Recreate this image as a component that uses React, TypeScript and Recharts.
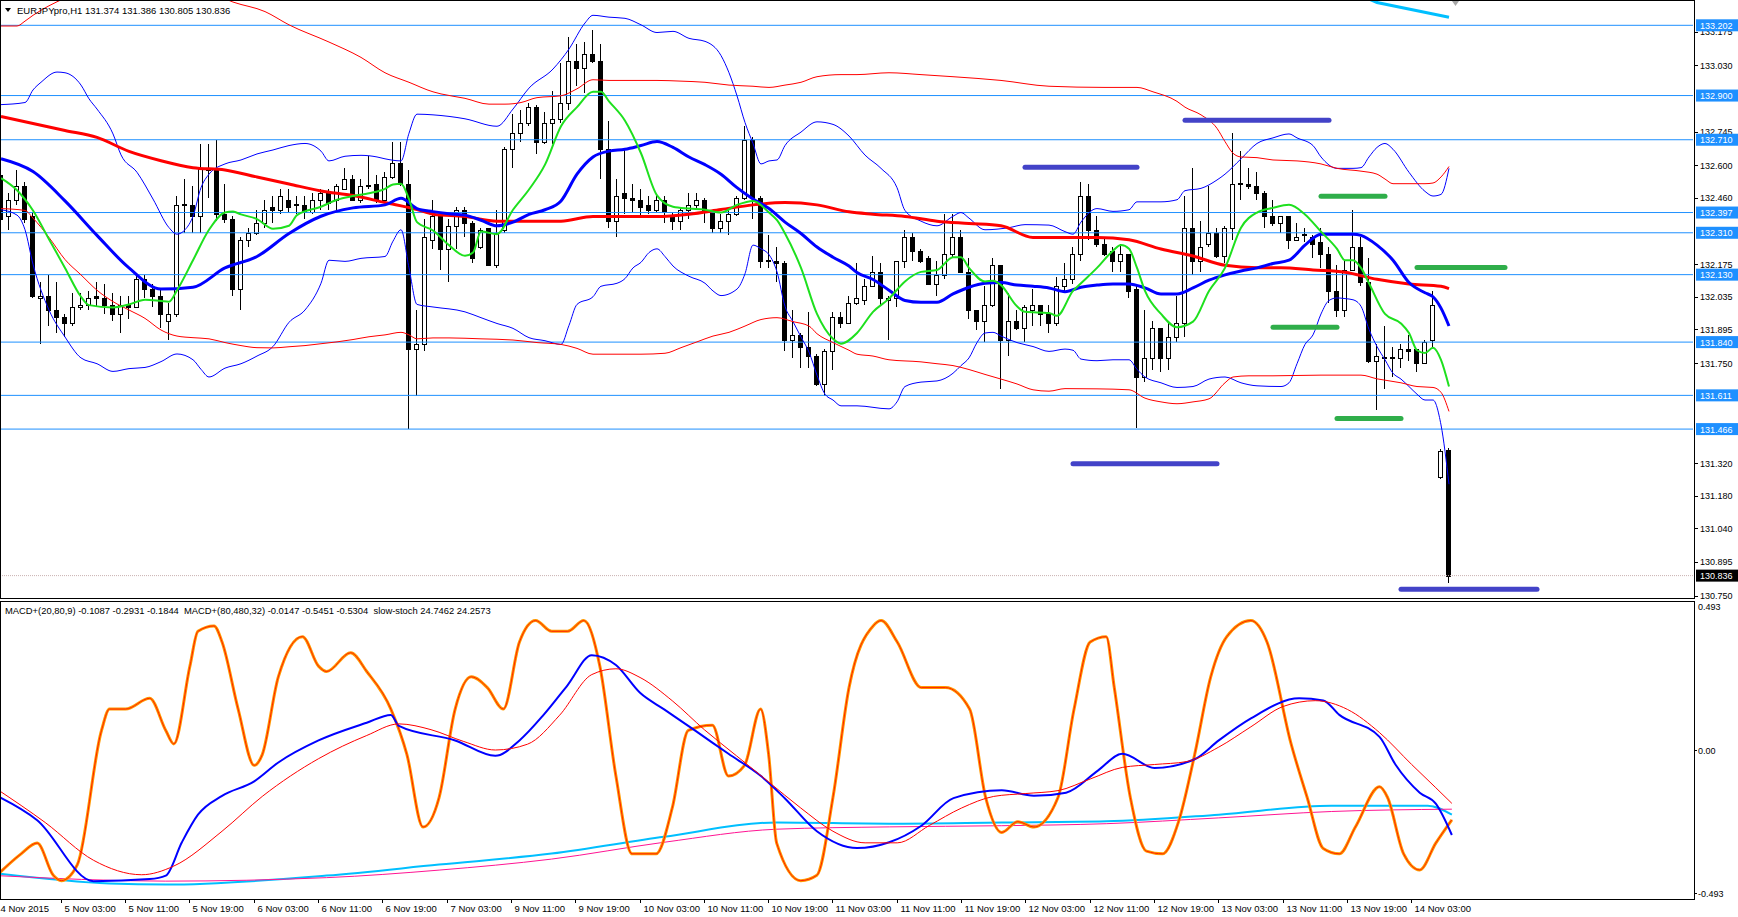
import React from 'react';
import { ComposedChart, Bar, Line, XAxis, YAxis, ReferenceLine } from 'recharts';

type Pt = [number, number];

// ---- candles (EURJPYpro H1), bar 0 = 4 Nov 19:00 ----
const opens = [
  132.56, 132.38, 132.45, 132.51, 132.38, 132.03, 132.04, 131.98, 131.95, 131.92,
  131.99, 132.0, 132.04, 132.03, 132.0, 131.96, 132.0, 131.99, 132.11, 132.07,
  132.04, 131.93, 131.96, 132.43, 132.43, 132.38, 132.58, 132.59, 132.39, 132.37,
  132.07, 132.28, 132.31, 132.35, 132.42, 132.41, 132.45, 132.43, 132.43, 132.4,
  132.45, 132.48, 132.45, 132.5, 132.54, 132.45, 132.51, 132.52, 132.45, 132.55,
  132.61, 132.52, 131.81, 131.83, 132.28, 132.38, 132.24, 132.34, 132.41, 132.35,
  132.25, 132.33, 132.17, 132.32, 132.67, 132.74, 132.78, 132.85, 132.7, 132.78,
  132.8, 132.87, 133.05, 133.02, 133.08, 133.05, 132.67, 132.36, 132.48, 132.46,
  132.45, 132.43, 132.41, 132.45, 132.38, 132.36, 132.41, 132.43, 132.45, 132.41,
  132.33, 132.36, 132.39, 132.46, 132.71, 132.46, 132.19, 132.19, 132.18, 131.85,
  131.87, 131.82, 131.78, 131.66, 131.8, 131.95, 131.92, 132.01, 132.02, 132.08,
  132.14, 132.02, 132.03, 132.19, 132.29, 132.23, 132.2, 132.09, 132.13, 132.22,
  132.29, 132.14, 131.98, 131.93, 132.0, 132.17, 131.85, 131.93, 131.9, 131.98,
  132.0, 131.96, 131.92, 132.08, 132.11, 132.22, 132.47, 132.32, 132.26, 132.23,
  132.19, 132.22, 132.07, 131.69, 131.77, 131.9, 131.77, 131.86, 131.92, 132.33,
  132.19, 132.26, 132.31, 132.21, 132.33, 132.52, 132.52, 132.51, 132.48, 132.38,
  132.35, 132.38, 132.28, 132.3, 132.29, 132.27, 132.22, 132.06, 131.98, 132.15,
  132.25, 132.1, 131.76, 131.77, 131.77, 131.77, 131.81, 131.81, 131.75, 131.85,
  131.26, 131.374,
];
const highs = [
  132.59, 132.48, 132.58, 132.53, 132.4, 132.1, 132.13, 132.1, 131.96, 132.05,
  132.05, 132.06, 132.1, 132.09, 132.05, 132.04, 132.04, 132.13, 132.13, 132.09,
  132.07, 132.01, 132.47, 132.54, 132.51, 132.69, 132.69, 132.71, 132.52, 132.38,
  132.29, 132.33, 132.41, 132.45, 132.47, 132.5, 132.5, 132.47, 132.47, 132.48,
  132.5, 132.5, 132.52, 132.59, 132.56, 132.54, 132.64, 132.56, 132.57, 132.7,
  132.7, 132.58, 131.98, 132.37, 132.45, 132.4, 132.37, 132.42, 132.42, 132.36,
  132.33, 132.33, 132.41, 132.68, 132.82, 132.84, 132.87, 132.86, 132.83, 132.92,
  133.04, 133.15, 133.12, 133.13, 133.18, 133.12, 132.79, 132.54, 132.67, 132.52,
  132.5, 132.47, 132.47, 132.47, 132.4, 132.42, 132.48, 132.48, 132.46, 132.41,
  132.39, 132.41, 132.47, 132.77, 132.72, 132.47, 132.3, 132.25, 132.19, 131.98,
  131.88, 131.97, 131.79, 131.81, 131.97, 131.97, 132.04, 132.18, 132.11, 132.21,
  132.18, 132.04, 132.19, 132.32, 132.31, 132.24, 132.21, 132.19, 132.39, 132.39,
  132.32, 132.2, 131.98, 132.08, 132.2, 132.17, 132.05, 131.98, 132.0, 132.07,
  132.0, 132.0, 132.12, 132.18, 132.25, 132.53, 132.52, 132.38, 132.29, 132.25,
  132.26, 132.22, 132.09, 131.98, 131.93, 131.9, 131.92, 132.04, 132.47, 132.59,
  132.36, 132.51, 132.33, 132.34, 132.74, 132.66, 132.59, 132.57, 132.49, 132.45,
  132.38, 132.38, 132.35, 132.33, 132.3, 132.33, 132.25, 132.17, 132.19, 132.41,
  132.29, 132.2, 131.83, 131.91, 131.82, 131.83, 131.87, 131.81, 131.85, 132.06,
  131.38, 131.386,
];
const lows = [
  132.34, 132.32, 132.43, 132.35, 132.03, 131.83, 131.91, 131.88, 131.86, 131.91,
  131.98, 131.98, 131.99, 131.96, 131.93, 131.88, 131.94, 131.99, 132.03, 131.99,
  131.9, 131.85, 131.95, 132.31, 132.31, 132.31, 132.46, 132.36, 132.35, 132.04,
  131.98, 132.25, 132.3, 132.33, 132.35, 132.39, 132.4, 132.39, 132.37, 132.39,
  132.41, 132.41, 132.41, 132.5, 132.45, 132.44, 132.5, 132.44, 132.44, 132.54,
  132.51, 131.465, 131.61, 131.8, 132.24, 132.15, 132.1, 132.24, 132.29, 132.18,
  132.24, 132.17, 132.16, 132.31, 132.59, 132.7, 132.77, 132.65, 132.69, 132.69,
  132.78, 132.84, 132.94, 132.91, 133.04, 132.54, 132.33, 132.29, 132.39, 132.4,
  132.38, 132.39, 132.4, 132.35, 132.32, 132.32, 132.37, 132.41, 132.35, 132.31,
  132.31, 132.3, 132.38, 132.45, 132.37, 132.16, 132.16, 132.1, 131.8, 131.77,
  131.73, 131.73, 131.65, 131.61, 131.72, 131.9, 131.92, 132.0, 132.0, 132.08,
  132.0, 131.85, 131.99, 132.16, 132.19, 132.18, 132.09, 132.04, 132.11, 132.2,
  132.14, 131.94, 131.89, 131.84, 131.99, 131.64, 131.78, 131.89, 131.84, 131.91,
  131.91, 131.88, 131.91, 132.06, 132.09, 132.19, 132.28, 132.25, 132.21, 132.14,
  132.14, 132.03, 131.47, 131.67, 131.72, 131.71, 131.72, 131.84, 131.86, 132.13,
  132.14, 132.25, 132.2, 132.18, 132.28, 132.45, 132.5, 132.45, 132.33, 132.34,
  132.31, 132.24, 132.28, 132.27, 132.2, 132.16, 132.01, 131.95, 131.95, 132.15,
  132.08, 131.75, 131.55, 131.64, 131.69, 131.73, 131.76, 131.71, 131.75, 131.82,
  131.25, 130.805,
];
const closes = [
  132.37, 132.45, 132.51, 132.37, 132.04, 132.04, 131.98, 131.95, 131.92, 131.99,
  132.0, 132.03, 132.03, 132.0, 131.96, 132.0, 131.99, 132.11, 132.07, 132.04,
  131.96, 131.96, 132.43, 132.435, 132.38, 132.59, 132.59, 132.39, 132.37, 132.07,
  132.28, 132.31, 132.35, 132.41, 132.41, 132.47, 132.42, 132.435, 132.4, 132.45,
  132.48, 132.44, 132.51, 132.54, 132.45, 132.51, 132.515, 132.45, 132.55, 132.61,
  132.52, 131.81, 131.83, 132.29, 132.38, 132.24, 132.34, 132.41, 132.35, 132.2,
  132.32, 132.17, 132.31, 132.67, 132.74, 132.78, 132.85, 132.7, 132.78, 132.8,
  132.87, 133.05, 133.02, 133.08, 133.05, 132.67, 132.36, 132.47, 132.46, 132.45,
  132.42, 132.41, 132.45, 132.4, 132.36, 132.41, 132.43, 132.45, 132.41, 132.33,
  132.36, 132.39, 132.46, 132.71, 132.46, 132.19, 132.195, 132.18, 131.85, 131.87,
  131.82, 131.78, 131.66, 131.8, 131.95, 131.92, 132.01, 132.03, 132.08, 132.14,
  132.03, 132.03, 132.19, 132.29, 132.23, 132.19, 132.09, 132.13, 132.22, 132.29,
  132.14, 131.98, 131.93, 132.0, 132.17, 131.85, 131.93, 131.9, 131.99, 132.0,
  131.96, 131.92, 132.08, 132.11, 132.22, 132.47, 132.32, 132.26, 132.22, 132.19,
  132.22, 132.06, 131.69, 131.77, 131.9, 131.77, 131.86, 131.92, 132.33, 132.19,
  132.25, 132.31, 132.21, 132.33, 132.52, 132.525, 132.51, 132.48, 132.38, 132.35,
  132.38, 132.28, 132.29, 132.305, 132.26, 132.22, 132.06, 131.98, 132.15, 132.25,
  132.1, 131.76, 131.78, 131.775, 131.775, 131.81, 131.8, 131.75, 131.84, 132.0,
  131.37, 130.836,
];

// ---- main window indicators, [bar, value] ----
const maSlow: Pt[] = [
  [0, 132.81], [4, 132.78], [8, 132.75], [12, 132.72], [16, 132.66], [20, 132.62], [24, 132.59],
  [28, 132.58], [32, 132.55], [36, 132.52], [40, 132.49], [44, 132.47], [48, 132.44], [52, 132.41],
  [54, 132.39], [58, 132.38], [62, 132.36], [66, 132.36], [70, 132.36], [74, 132.38], [78, 132.38],
  [82, 132.38], [86, 132.39], [90, 132.41], [94, 132.43], [98, 132.44], [102, 132.43], [106, 132.4],
  [109, 132.39], [113, 132.38], [117, 132.36], [121, 132.35], [125, 132.34], [129, 132.29],
  [133, 132.29], [137, 132.29], [141, 132.28], [145, 132.24], [149, 132.21], [153, 132.17],
  [157, 132.16], [160, 132.16], [164, 132.15], [168, 132.14], [172, 132.11], [176, 132.09],
  [180, 132.08], [181, 132.07],
];
const maMid: Pt[] = [
  [0, 132.628], [4, 132.573], [8, 132.447], [12, 132.299], [16, 132.159], [20, 132.068], [24, 132.076],
  [28, 132.159], [32, 132.208], [36, 132.307], [40, 132.381], [44, 132.417], [48, 132.43], [50, 132.458],
  [52, 132.414], [54, 132.401], [56, 132.392], [58, 132.386], [60, 132.364], [62, 132.34], [64, 132.356],
  [66, 132.389], [68, 132.409], [70, 132.447], [72, 132.562], [74, 132.636], [76, 132.661], [78, 132.669],
  [80, 132.685], [82, 132.702], [84, 132.677], [86, 132.636], [88, 132.603], [90, 132.562], [92, 132.504],
  [94, 132.455], [96, 132.414], [98, 132.356], [100, 132.307], [102, 132.249], [104, 132.205],
  [106, 132.167], [107, 132.139], [109, 132.109], [111, 132.063], [113, 132.019], [115, 132.011],
  [117, 132.011], [119, 132.047], [121, 132.076], [123, 132.093], [125, 132.096], [127, 132.085],
  [129, 132.08], [131, 132.073], [133, 132.057], [135, 132.076], [137, 132.085], [139, 132.09],
  [141, 132.09], [143, 132.073], [145, 132.047], [147, 132.047], [149, 132.073], [151, 132.106],
  [153, 132.129], [155, 132.146], [157, 132.159], [159, 132.178], [161, 132.192], [163, 132.257],
  [165, 132.304], [167, 132.304], [169, 132.304], [170, 132.299], [172, 132.257], [174, 132.192],
  [176, 132.096], [178, 132.052], [179, 132.035], [180, 131.986], [181, 131.909],
];
const maFast: Pt[] = [
  [0, 132.545], [2, 132.493], [4, 132.406], [6, 132.282], [8, 132.159], [10, 132.035], [11, 131.999],
  [14, 131.989], [16, 132.002], [18, 132.022], [20, 132.017], [21, 132.014], [22, 132.063], [24, 132.192],
  [26, 132.323], [28, 132.397], [29, 132.401], [30, 132.389], [32, 132.369], [34, 132.327], [36, 132.34],
  [37, 132.386], [40, 132.422], [42, 132.452], [44, 132.468], [46, 132.48], [48, 132.499], [49, 132.518],
  [50, 132.521], [51, 132.455], [52, 132.356], [54, 132.32], [56, 132.257], [58, 132.211], [59, 132.225],
  [60, 132.315], [62, 132.304], [64, 132.409], [66, 132.496], [68, 132.603], [70, 132.768], [72, 132.85],
  [74, 132.916], [75, 132.916], [76, 132.875], [78, 132.792], [80, 132.652], [82, 132.471], [84, 132.422],
  [86, 132.414], [88, 132.409], [90, 132.397], [92, 132.43], [94, 132.447], [96, 132.397], [97, 132.364],
  [98, 132.307], [100, 132.159], [102, 131.961], [104, 131.854], [105, 131.833], [107, 131.879],
  [109, 131.97], [111, 132.027], [113, 132.101], [115, 132.142], [117, 132.15], [119, 132.205],
  [120, 132.205], [121, 132.159], [123, 132.101], [124, 132.104], [125, 132.085], [127, 131.994],
  [128, 131.97], [131, 131.965], [132, 131.953], [134, 132.06], [135, 132.093], [137, 132.159],
  [139, 132.233], [140, 132.257], [141, 132.241], [142, 132.159], [143, 132.06], [145, 131.961],
  [147, 131.904], [149, 131.928], [151, 132.06], [153, 132.159], [155, 132.332], [157, 132.397],
  [159, 132.417], [161, 132.43], [163, 132.389], [165, 132.315], [167, 132.241], [168, 132.192],
  [169, 132.192], [170, 132.159], [171, 132.093], [173, 131.961], [175, 131.92], [176, 131.879],
  [177, 131.805], [178, 131.793], [179, 131.816], [180, 131.764], [181, 131.649],
];
const bbUpper: Pt[] = [
  [0, 132.861], [3, 132.87], [4, 132.924], [5, 132.957], [7, 133.001], [8, 132.998], [10, 132.945],
  [11, 132.886], [12, 132.842], [14, 132.735], [15, 132.645], [17, 132.57], [19, 132.455], [21, 132.332],
  [22, 132.304], [23, 132.323], [24, 132.381], [25, 132.504], [26, 132.562], [28, 132.606], [30, 132.623],
  [32, 132.649], [34, 132.666], [36, 132.685], [38, 132.694], [40, 132.661], [41, 132.619], [43, 132.639],
  [45, 132.643], [47, 132.636], [48, 132.628], [50, 132.619], [51, 132.738], [52, 132.82], [54, 132.817],
  [58, 132.8], [62, 132.768], [64, 132.842], [66, 132.932], [69, 133.014], [71, 133.1], [73, 133.212],
  [74, 133.245], [76, 133.237], [78, 133.232], [80, 133.204], [82, 133.171], [84, 133.176], [86, 133.146],
  [88, 133.133], [90, 133.072], [91, 132.998], [92, 132.899], [93, 132.784], [94, 132.694], [95, 132.606],
  [96, 132.619], [97, 132.623], [98, 132.685], [100, 132.743], [102, 132.787], [104, 132.776],
  [106, 132.726], [108, 132.644], [110, 132.587], [112, 132.504], [113, 132.406], [115, 132.36],
  [117, 132.34], [119, 132.381], [120, 132.397], [121, 132.373], [123, 132.323], [126, 132.332],
  [128, 132.345], [131, 132.343], [133, 132.315], [134, 132.304], [135, 132.356], [137, 132.414],
  [139, 132.402], [141, 132.409], [142, 132.443], [145, 132.443], [147, 132.452], [148, 132.491],
  [150, 132.501], [152, 132.537], [153, 132.562], [155, 132.628], [157, 132.694], [159, 132.718],
  [161, 132.735], [162, 132.718], [164, 132.685], [165, 132.636], [167, 132.587], [169, 132.587],
  [170, 132.59], [171, 132.636], [172, 132.677], [173, 132.694], [174, 132.669], [176, 132.57],
  [178, 132.488], [179, 132.468], [180, 132.475], [181, 132.587],
];
const bbLower: Pt[] = [
  [0, 132.409], [2, 132.386], [3, 132.323], [4, 132.175], [6, 131.978], [8, 131.862], [10, 131.772],
  [12, 131.747], [14, 131.714], [16, 131.726], [18, 131.731], [20, 131.756], [22, 131.789], [24, 131.764],
  [25, 131.723], [26, 131.69], [28, 131.728], [30, 131.747], [32, 131.78], [34, 131.821], [36, 131.925],
  [38, 131.978], [40, 132.093], [41, 132.192], [43, 132.187], [45, 132.2], [48, 132.208], [49, 132.274],
  [50, 132.323], [51, 132.159], [52, 132.002], [54, 131.991], [58, 131.97], [60, 131.945], [62, 131.92],
  [64, 131.899], [66, 131.859], [68, 131.846], [70, 131.83], [71, 131.912], [72, 132.002], [74, 132.035],
  [75, 132.08], [77, 132.093], [78, 132.113], [79, 132.159], [80, 132.183], [81, 132.225], [82, 132.241],
  [83, 132.208], [84, 132.167], [86, 132.123], [88, 132.093], [89, 132.06], [90, 132.04], [92, 132.068],
  [93, 132.134], [94, 132.257], [95, 132.241], [96, 132.216], [97, 132.142], [98, 131.994], [99, 131.928],
  [100, 131.862], [101, 131.797], [102, 131.698], [103, 131.616], [104, 131.591], [105, 131.566],
  [107, 131.566], [111, 131.553], [112, 131.583], [113, 131.649], [115, 131.668], [117, 131.673],
  [119, 131.706], [120, 131.739], [121, 131.772], [122, 131.838], [123, 131.879], [124, 131.882],
  [125, 131.866], [127, 131.838], [129, 131.821], [131, 131.8], [133, 131.81], [134, 131.805],
  [135, 131.767], [137, 131.76], [139, 131.764], [141, 131.764], [142, 131.723], [143, 131.69],
  [145, 131.665], [147, 131.645], [149, 131.649], [151, 131.681], [153, 131.69], [155, 131.665],
  [157, 131.652], [160, 131.649], [161, 131.665], [162, 131.747], [163, 131.83], [164, 131.871],
  [165, 131.961], [166, 132.019], [167, 132.03], [168, 132.027], [169, 132.022], [170, 131.994],
  [171, 131.895], [172, 131.821], [173, 131.764], [174, 131.706], [175, 131.681], [176, 131.649],
  [177, 131.616], [178, 131.591], [179, 131.591], [180, 131.484], [181, 131.229],
];
const envUpper: Pt[] = [
  [0, 133.199], [2, 133.199], [3, 133.22], [4, 133.245], [6, 133.286], [8, 133.319], [12, 133.376],
  [18, 133.409], [24, 133.376], [29, 133.302], [33, 133.261], [36, 133.204], [41, 133.13], [45, 133.064],
  [48, 132.998], [51, 132.957], [54, 132.916], [55, 132.907], [58, 132.888], [61, 132.863], [63, 132.863],
  [65, 132.87], [67, 132.891], [70, 132.899], [72, 132.929], [74, 132.968], [76, 132.965], [82, 132.965],
  [85, 132.962], [88, 132.957], [91, 132.945], [94, 132.94], [96, 132.935], [98, 132.945], [100, 132.957],
  [102, 132.981], [105, 132.99], [107, 132.99], [111, 132.998], [115, 132.99], [119, 132.981],
  [125, 132.965], [131, 132.94], [138, 132.935], [142, 132.935], [144, 132.916], [147, 132.875],
  [148, 132.85], [150, 132.817], [152, 132.759], [153, 132.702], [154, 132.652], [155, 132.636],
  [157, 132.633], [159, 132.623], [162, 132.619], [165, 132.606], [167, 132.587], [170, 132.575],
  [172, 132.562], [173, 132.541], [174, 132.521], [178, 132.521], [179, 132.524], [180, 132.55],
  [181, 132.595],
];
const envLower: Pt[] = [
  [0, 132.414], [3, 132.406], [4, 132.373], [6, 132.29], [8, 132.195], [10, 132.129], [12, 132.063],
  [14, 132.014], [16, 131.978], [18, 131.942], [20, 131.892], [22, 131.866], [24, 131.859], [26, 131.854],
  [28, 131.838], [30, 131.825], [32, 131.816], [34, 131.815], [36, 131.82], [38, 131.825], [40, 131.833],
  [42, 131.841], [44, 131.851], [46, 131.863], [48, 131.871], [50, 131.882], [51, 131.871], [52, 131.854],
  [54, 131.858], [56, 131.858], [60, 131.854], [64, 131.849], [67, 131.838], [70, 131.83], [72, 131.813],
  [74, 131.788], [80, 131.788], [83, 131.792], [85, 131.816], [87, 131.841], [89, 131.866], [91, 131.882],
  [93, 131.909], [95, 131.937], [97, 131.945], [99, 131.928], [101, 131.909], [102, 131.876],
  [104, 131.838], [106, 131.805], [107, 131.788], [109, 131.78], [111, 131.764], [115, 131.755],
  [117, 131.747], [119, 131.739], [121, 131.722], [123, 131.701], [125, 131.681], [127, 131.66],
  [129, 131.635], [131, 131.629], [133, 131.64], [137, 131.639], [141, 131.635], [143, 131.599],
  [145, 131.583], [147, 131.575], [149, 131.583], [151, 131.596], [153, 131.665], [154, 131.69],
  [156, 131.695], [159, 131.695], [165, 131.698], [170, 131.698], [172, 131.682], [175, 131.665],
  [177, 131.649], [179, 131.645], [180, 131.624], [181, 131.542],
];
const cyanTop: Pt[] = [[170, 133.33], [172, 133.3], [181, 133.237]];

// horizontal levels and drawn segments
const levels = [133.202, 132.9, 132.71, 132.397, 132.31, 132.13, 131.84, 131.611, 131.466];
const lastPrice = 130.836;
const priceTicks = [
  133.175, 133.03, 132.745, 132.6, 132.46, 132.175, 132.035, 131.895, 131.75, 131.32, 131.18,
  131.04, 130.895, 130.75,
];
const segments = [
  { from: 128, to: 142, price: 132.592, color: '#4343c8' },
  { from: 148, to: 166, price: 132.794, color: '#4343c8' },
  { from: 134, to: 152, price: 131.317, color: '#4343c8' },
  { from: 175, to: 192, price: 130.777, color: '#4343c8' },
  { from: 165, to: 173, price: 132.467, color: '#2fae4a' },
  { from: 177, to: 188, price: 132.161, color: '#2fae4a' },
  { from: 159, to: 167, price: 131.904, color: '#2fae4a' },
  { from: 167, to: 175, price: 131.512, color: '#2fae4a' },
];

// ---- sub window: MACD(20,80,9), MACD(80,480,32), slow stochastic ----
const macdMain: Pt[] = [
  [0, -0.158], [5, -0.242], [12, -0.452], [19, -0.445], [21, -0.433], [23, -0.318], [25, -0.223],
  [28, -0.158], [32, -0.108], [35, -0.043], [40, 0.033], [46, 0.094], [49, 0.121], [50, 0.083],
  [57, 0.033], [62, -0.02], [65, 0.033], [68, 0.121], [71, 0.224], [74, 0.327], [77, 0.293],
  [80, 0.197], [83, 0.14], [87, 0.064], [91, -0.013], [95, -0.089], [98, -0.166], [102, -0.28],
  [107, -0.338], [111, -0.318], [115, -0.261], [119, -0.166], [125, -0.139], [129, -0.158],
  [133, -0.147], [137, -0.07], [140, -0.013], [144, -0.062], [149, -0.032], [152, 0.033],
  [156, 0.109], [162, 0.178], [165, 0.171], [167, 0.121], [172, 0.045], [174, -0.051],
  [177, -0.147], [179, -0.185], [181, -0.293],
];
const macdSignal: Pt[] = [
  [0, -0.135], [6, -0.25], [12, -0.38], [18, -0.43], [22, -0.4], [28, -0.28], [33, -0.16], [40, -0.03],
  [46, 0.05], [50, 0.09], [54, 0.07], [58, 0.03], [62, 0.0], [66, 0.02], [70, 0.12], [74, 0.26],
  [77, 0.28], [80, 0.25], [84, 0.17], [88, 0.07], [92, -0.02], [96, -0.11], [100, -0.2], [104, -0.28],
  [108, -0.32], [112, -0.32], [116, -0.26], [120, -0.2], [124, -0.16], [128, -0.15], [132, -0.14],
  [136, -0.1], [140, -0.06], [144, -0.05], [148, -0.04], [152, 0.01], [156, 0.08], [160, 0.15],
  [164, 0.17], [168, 0.14], [172, 0.06], [176, -0.05], [179, -0.13], [181, -0.184],
];
const macdLong: Pt[] = [
  [0, -0.425], [14, -0.46], [21, -0.464], [41, -0.433], [55, -0.395], [69, -0.357], [83, -0.299],
  [97, -0.25], [111, -0.254], [125, -0.25], [138, -0.246], [152, -0.223], [166, -0.192], [178, -0.192],
  [181, -0.223],
];
const macdLongSignal: Pt[] = [
  [0, -0.433], [21, -0.452], [41, -0.44], [55, -0.414], [69, -0.376], [83, -0.318], [97, -0.273],
  [111, -0.265], [125, -0.261], [138, -0.254], [152, -0.234], [166, -0.212], [181, -0.204],
];
const stochMain: Pt[] = [
  [0, 4], [3, 12], [5, 16], [7, 4], [8, 2], [10, 8], [13, 58], [14, 66], [16, 66], [19, 70], [21, 58],
  [22, 53], [24, 82], [25, 95], [27, 97], [28, 91], [30, 66], [32, 45], [33, 49], [35, 78], [38, 93],
  [40, 82], [41, 80], [44, 87], [46, 80], [49, 66], [51, 49], [53, 22], [55, 33], [57, 66], [59, 78],
  [61, 74], [63, 66], [65, 91], [67, 99], [69, 95], [71, 95], [73, 99], [75, 82], [77, 41], [79, 12],
  [82, 12], [84, 29], [86, 58], [89, 60], [91, 41], [93, 45], [95, 66], [96, 49], [97, 16], [100, 2],
  [102, 4], [104, 33], [106, 74], [109, 97], [110, 99], [112, 91], [115, 74], [118, 74], [121, 66],
  [123, 33], [125, 20], [127, 24], [129, 22], [132, 33], [134, 66], [136, 91], [138, 93], [139, 74],
  [141, 33], [143, 13], [145, 12], [147, 24], [149, 49], [151, 78], [153, 93], [156, 99], [158, 91],
  [161, 53], [163, 33], [165, 14], [167, 12], [169, 22], [172, 37], [173, 33], [175, 12], [177, 6],
  [179, 16], [181, 24.7],
];

const dateLabels: [number, string][] = [
  [0, '4 Nov 2015'], [8, '5 Nov 03:00'], [16, '5 Nov 11:00'], [24, '5 Nov 19:00'], [32, '6 Nov 03:00'],
  [40, '6 Nov 11:00'], [48, '6 Nov 19:00'], [56, '7 Nov 03:00'], [64, '9 Nov 11:00'], [72, '9 Nov 19:00'],
  [80, '10 Nov 03:00'], [88, '10 Nov 11:00'], [96, '10 Nov 19:00'], [104, '11 Nov 03:00'],
  [112, '11 Nov 11:00'], [120, '11 Nov 19:00'], [128, '12 Nov 03:00'], [136, '12 Nov 11:00'],
  [144, '12 Nov 19:00'], [152, '13 Nov 03:00'], [160, '13 Nov 11:00'], [168, '13 Nov 19:00'],
  [176, '14 Nov 03:00'],
];

// ---- layout ----
const FONT = '"Liberation Sans", Arial, sans-serif';
const SLOTS = 212;
const SLOT_W = 8;
const LEFT = -3;
const AXIS_W = 45;
const MAIN_H = 598;
const MAIN_PAD = 6; // room under the plot for the lowest price label
const SUB_TOP = 601;
const SUB_H = 298;
const DATE_H = 18;
const PLOT_R = SLOTS * SLOT_W; // svg x of the right edge of the plot
const priceDomain: [number, number] = [130.7398, 133.3108];
const macdDomain: [number, number] = [-0.5136, 0.5136];
const stochDomain: [number, number] = [-4.85, 106.3];

const lineSeries: Record<string, Pt[]> = {
  maSlow, maMid, maFast, bbUpper, bbLower, envUpper, envLower, cyanTop,
  macdMain, macdSignal, macdLong, macdLongSignal, stochMain,
};
const lineMaps: Record<string, Map<number, number>> = {};
Object.entries(lineSeries).forEach(([k, pts]) => (lineMaps[k] = new Map(pts)));
const dateMap = new Map(dateLabels);

const rows = Array.from({ length: SLOTS }, (_, i) => {
  const row: Record<string, any> = { i };
  if (i < closes.length) {
    row.hl = [lows[i], highs[i]];
    row.o = opens[i];
    row.c = closes[i];
  }
  Object.keys(lineMaps).forEach((k) => {
    const v = lineMaps[k].get(i);
    if (v !== undefined) row[k] = v;
  });
  segments.forEach((s, n) => {
    if (i === s.from || i === s.to) row['seg' + n] = s.price;
  });
  return row;
});

function Candle(props: any) {
  const { x, y, width, height, payload } = props;
  if (!payload || !payload.hl) return null;
  const [low, high] = payload.hl;
  const yHigh = Math.min(y, y + height);
  const yLow = Math.max(y, y + height);
  const py = (v: number) => (high > low ? yHigh + ((high - v) / (high - low)) * (yLow - yHigh) : yHigh);
  const cx = Math.floor(x + width / 2);
  const bull = payload.c >= payload.o;
  const top = Math.round(py(Math.max(payload.o, payload.c)));
  const bot = Math.round(py(Math.min(payload.o, payload.c)));
  return (
    <g>
      <line x1={cx + 0.5} x2={cx + 0.5} y1={Math.round(yHigh)} y2={Math.round(yLow)} stroke="#000" strokeWidth={1} />
      {bot - top < 1 ? (
        <line x1={cx - 2} x2={cx + 3} y1={top + 0.5} y2={top + 0.5} stroke="#000" strokeWidth={1} />
      ) : (
        <rect x={cx - 1.5} y={top + 0.5} width={4} height={bot - top} fill={bull ? '#fff' : '#000'} stroke="#000" strokeWidth={1} />
      )}
    </g>
  );
}

function PriceTick(props: any) {
  const { y, payload } = props;
  const v = payload.value as number;
  const ax = PLOT_R + 1;
  const isLevel = levels.includes(v);
  if (isLevel || v === lastPrice) {
    return (
      <g>
        <rect x={ax + 2} y={y - 6} width={44} height={12} fill={isLevel ? '#1e90ff' : '#000'} />
        <text x={ax + 6} y={y + 3.5} fill="#fff" fontSize={9} fontFamily={FONT}>
          {v.toFixed(3)}
        </text>
      </g>
    );
  }
  return (
    <g>
      <line x1={ax} x2={ax + 4} y1={Math.round(y) + 0.5} y2={Math.round(y) + 0.5} stroke="#000" />
      <text x={ax + 6} y={y + 3.5} fill="#000" fontSize={9} fontFamily={FONT}>
        {v.toFixed(3)}
      </text>
    </g>
  );
}

function MacdTick(props: any) {
  const { y, payload } = props;
  const v = payload.value as number;
  const ax = PLOT_R + 1;
  const label = v === 0 ? '0.00' : v.toFixed(3);
  return (
    <g>
      {v !== 0.493 && <line x1={ax} x2={ax + 3} y1={Math.round(y) + 0.5} y2={Math.round(y) + 0.5} stroke="#000" />}
      <text x={ax + 4} y={y + 3.5} fill="#000" fontSize={9} fontFamily={FONT}>
        {label}
      </text>
    </g>
  );
}

function DateTick(props: any) {
  const { x, payload } = props;
  const label = dateMap.get(payload.value);
  if (!label) return null;
  const tx = Math.floor(x) + 0.5;
  return (
    <g>
      <line x1={tx} x2={tx} y1={SUB_H} y2={SUB_H + 4} stroke="#000" />
      <text x={tx + 3} y={SUB_H + 13} fill="#000" fontSize={9.5} fontFamily={FONT}>
        {label}
      </text>
    </g>
  );
}

const smooth = { dot: false, isAnimationActive: false, connectNulls: true, type: 'monotone' as const, activeDot: false };
const straight = { ...smooth, type: 'linear' as const };

export default function App() {
  return (
    <div style={{ position: 'fixed', left: 0, top: 0, width: 1738, height: 917, background: '#fff', overflow: 'hidden' }}>
      <div style={{ position: 'absolute', left: LEFT, top: 0 }}>
        <ComposedChart
          width={PLOT_R + AXIS_W}
          height={MAIN_H + MAIN_PAD}
          data={rows}
          margin={{ top: 0, right: 0, bottom: MAIN_PAD, left: 0 }}
        >
          <XAxis dataKey="i" hide />
          <YAxis
            yAxisId="p"
            orientation="right"
            domain={priceDomain}
            allowDataOverflow
            width={AXIS_W}
            ticks={[...priceTicks, ...levels, lastPrice]}
            interval={0}
            axisLine={false}
            tickLine={false}
            tick={(p: any) => <PriceTick {...p} />}
          />
          {levels.map((l) => (
            <ReferenceLine key={l} yAxisId="p" y={l} stroke="#1e90ff" strokeWidth={1} />
          ))}
          <ReferenceLine yAxisId="p" y={lastPrice} stroke="#c9b1b1" strokeDasharray="1 1" />
          <Line yAxisId="p" dataKey="bbUpper" stroke="#0000ff" strokeWidth={1} {...smooth} />
          <Line yAxisId="p" dataKey="bbLower" stroke="#0000ff" strokeWidth={1} {...smooth} />
          <Line yAxisId="p" dataKey="envUpper" stroke="#ff0000" strokeWidth={1} {...smooth} />
          <Line yAxisId="p" dataKey="envLower" stroke="#ff0000" strokeWidth={1} {...smooth} />
          <Bar yAxisId="p" dataKey="hl" isAnimationActive={false} shape={(p: any) => <Candle {...p} />} />
          <Line yAxisId="p" dataKey="maSlow" stroke="#ff0000" strokeWidth={3} {...smooth} />
          <Line yAxisId="p" dataKey="maMid" stroke="#0000ff" strokeWidth={3} {...smooth} />
          <Line yAxisId="p" dataKey="maFast" stroke="#1ee01e" strokeWidth={2} {...smooth} />
          <Line yAxisId="p" dataKey="cyanTop" stroke="#00bfff" strokeWidth={3} {...straight} />
          {segments.map((s, n) => (
            <Line key={n} yAxisId="p" dataKey={'seg' + n} stroke={s.color} strokeWidth={5} strokeLinecap="round" {...straight} />
          ))}
        </ComposedChart>
      </div>

      <div style={{ position: 'absolute', left: LEFT, top: SUB_TOP }}>
        <ComposedChart width={PLOT_R + AXIS_W} height={SUB_H + DATE_H} data={rows} margin={{ top: 0, right: 0, bottom: 0, left: 0 }}>
          <XAxis dataKey="i" interval={0} height={DATE_H} axisLine={false} tickLine={false} tick={(p: any) => <DateTick {...p} />} />
          <YAxis
            yAxisId="m"
            orientation="right"
            domain={macdDomain}
            allowDataOverflow
            width={AXIS_W}
            ticks={[0.493, 0, -0.493]}
            interval={0}
            axisLine={false}
            tickLine={false}
            tick={(p: any) => <MacdTick {...p} />}
          />
          <YAxis yAxisId="s" hide domain={stochDomain} allowDataOverflow />
          <Line yAxisId="m" dataKey="macdLong" stroke="#00bfff" strokeWidth={2} {...smooth} />
          <Line yAxisId="m" dataKey="macdLongSignal" stroke="#ff1493" strokeWidth={1} {...smooth} />
          <Line yAxisId="s" dataKey="stochMain" stroke="#ff9900" strokeWidth={3} {...smooth} />
          <Line yAxisId="s" dataKey="stochMain" stroke="#ff2000" strokeWidth={1} {...smooth} />
          <Line yAxisId="m" dataKey="macdMain" stroke="#0000ff" strokeWidth={2} {...smooth} />
          <Line yAxisId="m" dataKey="macdSignal" stroke="#ff0000" strokeWidth={1} {...smooth} />
        </ComposedChart>
      </div>

      {/* window frames and captions */}
      <div style={{ position: 'absolute', left: 0, top: 0, width: 1695, height: 599, border: '1px solid #000', boxSizing: 'border-box', pointerEvents: 'none' }} />
      <div style={{ position: 'absolute', left: 0, top: SUB_TOP, width: 1695, height: 299, border: '1px solid #000', boxSizing: 'border-box', pointerEvents: 'none' }} />
      <svg width={1738} height={917} style={{ position: 'absolute', left: 0, top: 0, pointerEvents: 'none' }}>
        <path d="M5 8 L11 8 L8 12 Z" fill="#000" />
        <text x={17} y={13.5} fontSize={9.5} fontFamily={FONT} fill="#000">
          EURJPYpro,H1  131.374 131.386 130.805 130.836
        </text>
        <path d="M1452 1 L1459 1 L1455.5 6 Z" fill="#a8a8a8" />
        <text x={5} y={614} fontSize={9.4} fontFamily={FONT} fill="#000" xmlSpace="preserve">
          MACD+(20,80,9) -0.1087 -0.2931 -0.1844  MACD+(80,480,32) -0.0147 -0.5451 -0.5304  slow-stoch 24.7462 24.2573
        </text>
      </svg>
    </div>
  );
}
